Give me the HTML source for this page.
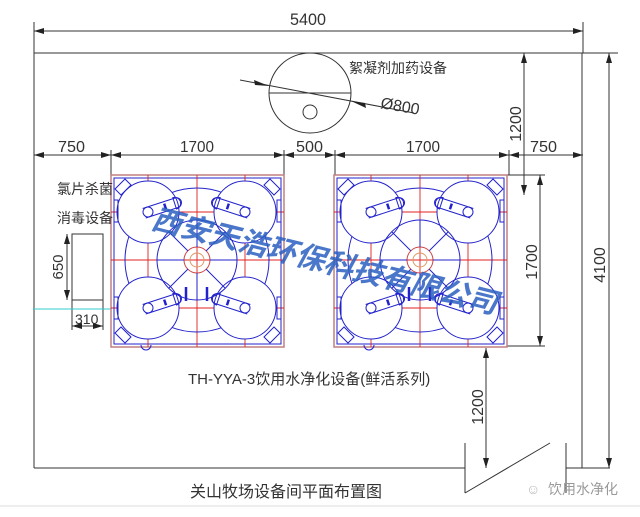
<!DOCTYPE html>
<html><head><meta charset="utf-8"><style>
html,body{margin:0;padding:0;background:#fff;}
body{width:640px;height:517px;overflow:hidden;position:relative;}
svg{position:absolute;left:0;top:0;}
text{font-family:"Liberation Sans","Noto Sans CJK SC",sans-serif;}
</style></head><body>
<svg width="640" height="517" viewBox="0 0 640 517" xmlns="http://www.w3.org/2000/svg">
<defs>
<marker id="a" viewBox="0 0 10 6" refX="10" refY="3" markerWidth="10" markerHeight="6" orient="auto-start-reverse" markerUnits="userSpaceOnUse"><path d="M0,0 L10,3 L0,6 z" fill="#222"/></marker>
<g id="arm" fill="none" stroke="#22c" stroke-width="1">
<path d="M-4,-5 L30,-5 A5,5 0 0 1 30,5 L-4,5"/>
<path d="M28,-6 a6,6 0 0 1 0,12 z"/>
<line x1="18" y1="-3" x2="18" y2="3" stroke-width="2.5"/>
</g>
<g id="eq">
<rect x="0" y="0" width="173" height="172" fill="#fff" stroke="#c08080" stroke-width="1.5"/>
<rect x="3" y="3" width="167" height="166" fill="none" stroke="#22c" stroke-width="1"/>
<g stroke="#e02020" stroke-width="0.9">
<line x1="37" y1="0" x2="37" y2="172"/><line x1="86" y1="0" x2="86" y2="172"/><line x1="134" y1="0" x2="134" y2="172"/>
<line x1="0" y1="37" x2="173" y2="37"/><line x1="0" y1="85" x2="173" y2="85"/><line x1="0" y1="133" x2="173" y2="133"/>
</g>
<g fill="none" stroke="#22c" stroke-width="1">
<circle cx="86" cy="85" r="72"/>
<circle cx="37" cy="37" r="31" fill="#fff"/><circle cx="134" cy="37" r="31" fill="#fff"/>
<circle cx="37" cy="133" r="31" fill="#fff"/><circle cx="134" cy="133" r="31" fill="#fff"/>
<circle cx="86" cy="85" r="40"/>
<circle cx="86" cy="85" r="13" stroke="#c44"/>
<circle cx="86" cy="85" r="7" stroke="#d96"/>
<line x1="86" y1="45" x2="86" y2="72"/><line x1="86" y1="98" x2="86" y2="125"/>
<line x1="46" y1="85" x2="73" y2="85"/><line x1="99" y1="85" x2="126" y2="85"/>
<line x1="58" y1="57" x2="77" y2="76"/><line x1="114" y1="57" x2="95" y2="76"/>
<line x1="58" y1="113" x2="77" y2="94"/><line x1="114" y1="113" x2="95" y2="94"/>
<circle cx="37" cy="37" r="5"/><circle cx="134" cy="37" r="5"/><circle cx="37" cy="133" r="5"/><circle cx="134" cy="133" r="5"/>
<path d="M4,14 L14,4 L20,10 L10,20 Z"/><path d="M169,14 L159,4 L153,10 L163,20 Z"/>
<path d="M4,158 L14,168 L20,162 L10,152 Z"/><path d="M169,158 L159,168 L153,162 L163,152 Z"/>
<rect x="3" y="25" width="4" height="22"/><rect x="166" y="25" width="4" height="22"/>
<rect x="3" y="122" width="4" height="22"/><rect x="166" y="122" width="4" height="22"/>
<path d="M30,170 a5,5 0 0 0 10,0"/>
</g>
<use href="#arm" transform="translate(37,37) rotate(-18)"/>
<use href="#arm" transform="translate(134,37) scale(-1,1) rotate(-18)"/>
<use href="#arm" transform="translate(37,133) rotate(-18)"/>
<use href="#arm" transform="translate(134,133) scale(-1,1) rotate(-18)"/>
<g stroke="#22c" stroke-width="2.5"><line x1="75" y1="112" x2="75" y2="126"/><line x1="96" y1="112" x2="96" y2="126"/></g>
</g>
</defs>

<g stroke="#333" stroke-width="1" fill="none">
<line x1="34" y1="53" x2="618" y2="53"/>
<line x1="34" y1="53" x2="34" y2="468"/>
<line x1="582" y1="53" x2="582" y2="468"/>
<line x1="34" y1="468" x2="465" y2="468"/>
<line x1="566" y1="468" x2="610" y2="468"/>
<line x1="465" y1="443" x2="465" y2="493"/>
<line x1="465" y1="493" x2="550" y2="443"/>
<line x1="566" y1="443" x2="566" y2="493"/>
<line x1="34" y1="22" x2="34" y2="53"/><line x1="583" y1="22" x2="583" y2="53"/>
<line x1="34" y1="31" x2="583" y2="31" marker-start="url(#a)" marker-end="url(#a)"/>
<line x1="34" y1="155" x2="111" y2="155" marker-start="url(#a)" marker-end="url(#a)"/>
<line x1="111" y1="155" x2="284" y2="155" marker-start="url(#a)" marker-end="url(#a)"/>
<line x1="284" y1="155" x2="335" y2="155" marker-start="url(#a)" marker-end="url(#a)"/>
<line x1="335" y1="155" x2="509" y2="155" marker-start="url(#a)" marker-end="url(#a)"/>
<line x1="509" y1="155" x2="583" y2="155" marker-start="url(#a)" marker-end="url(#a)"/>
<line x1="111" y1="150" x2="111" y2="175"/><line x1="284" y1="150" x2="284" y2="175"/>
<line x1="335" y1="150" x2="335" y2="175"/><line x1="509" y1="150" x2="509" y2="175"/>
<line x1="524" y1="53" x2="524" y2="195" marker-start="url(#a)" marker-end="url(#a)"/>
<line x1="609" y1="53" x2="609" y2="468" marker-start="url(#a)" marker-end="url(#a)"/>
<line x1="506" y1="175" x2="545" y2="175"/><line x1="506" y1="346" x2="545" y2="346"/>
<line x1="540" y1="175" x2="540" y2="346" marker-start="url(#a)" marker-end="url(#a)"/>
<line x1="486" y1="348" x2="486" y2="468" marker-start="url(#a)" marker-end="url(#a)"/>
<ellipse cx="310" cy="93" rx="41" ry="40"/>
<line x1="269" y1="93" x2="351" y2="93"/>
<circle cx="310" cy="112" r="7"/>
<line x1="240" y1="80" x2="414" y2="113"/>
<rect x="72" y="234" width="31" height="66"/>
<line x1="72" y1="300" x2="72" y2="330"/><line x1="103" y1="300" x2="103" y2="330"/>
<line x1="67" y1="234" x2="67" y2="300" marker-start="url(#a)" marker-end="url(#a)"/>
<line x1="72" y1="326" x2="103" y2="326" marker-start="url(#a)" marker-end="url(#a)"/>
</g>
<polygon points="269,86 254,80 255,85" fill="#222"/>
<polygon points="351,101 366,108 365,103" fill="#222"/>
<line x1="33" y1="309" x2="112" y2="309" stroke="#3cc" stroke-width="1"/>

<use href="#eq" x="111" y="175"/>
<use href="#eq" x="334" y="175"/>

<g fill="#333" font-size="17">
<text x="290" y="25" textLength="36" lengthAdjust="spacingAndGlyphs">5400</text>
<text x="58" y="152" font-size="16" textLength="27" lengthAdjust="spacingAndGlyphs">750</text>
<text x="180" y="152" font-size="16" textLength="34" lengthAdjust="spacingAndGlyphs">1700</text>
<text x="296" y="152" font-size="16" textLength="27" lengthAdjust="spacingAndGlyphs">500</text>
<text x="406" y="152" font-size="16" textLength="34" lengthAdjust="spacingAndGlyphs">1700</text>
<text x="530" y="152" font-size="16" textLength="27" lengthAdjust="spacingAndGlyphs">750</text>
<text transform="translate(521,124) rotate(-90)" text-anchor="middle" font-size="16">1200</text>
<text transform="translate(605,265) rotate(-90)" text-anchor="middle" font-size="16">4100</text>
<text transform="translate(537,262) rotate(-90)" text-anchor="middle" font-size="16">1700</text>
<text transform="translate(483,407) rotate(-90)" text-anchor="middle" font-size="16">1200</text>
<text transform="translate(63,267) rotate(-90)" text-anchor="middle" font-size="15">650</text>
<text x="75" y="324" font-size="14">310</text>
<text x="349" y="73" font-size="14">絮凝剂加药设备</text>
<text transform="translate(380,108) rotate(10)" font-size="16">Ø800</text>
<text x="57" y="194" font-size="14">氯片杀菌</text>
<text x="57" y="223" font-size="14">消毒设备</text>
<text x="188" y="384" font-size="15">TH-YYA-3饮用水净化设备(鲜活系列)</text>
<text x="190" y="497" font-size="16">关山牧场设备间平面布置图</text>
</g>
<text x="548" y="494" font-size="14" fill="#999">饮用水净化</text>
<text x="526" y="494" font-size="14" fill="#bbb">☺</text>
<text transform="translate(150,228) rotate(14)" font-size="29" font-weight="bold" font-style="italic" fill="#2a5fc0" fill-opacity="0.85" textLength="355" lengthAdjust="spacingAndGlyphs">西安天浩环保科技有限公司</text>
<line x1="0" y1="506" x2="640" y2="506" stroke="#ddd"/>
</svg>
</body></html>
